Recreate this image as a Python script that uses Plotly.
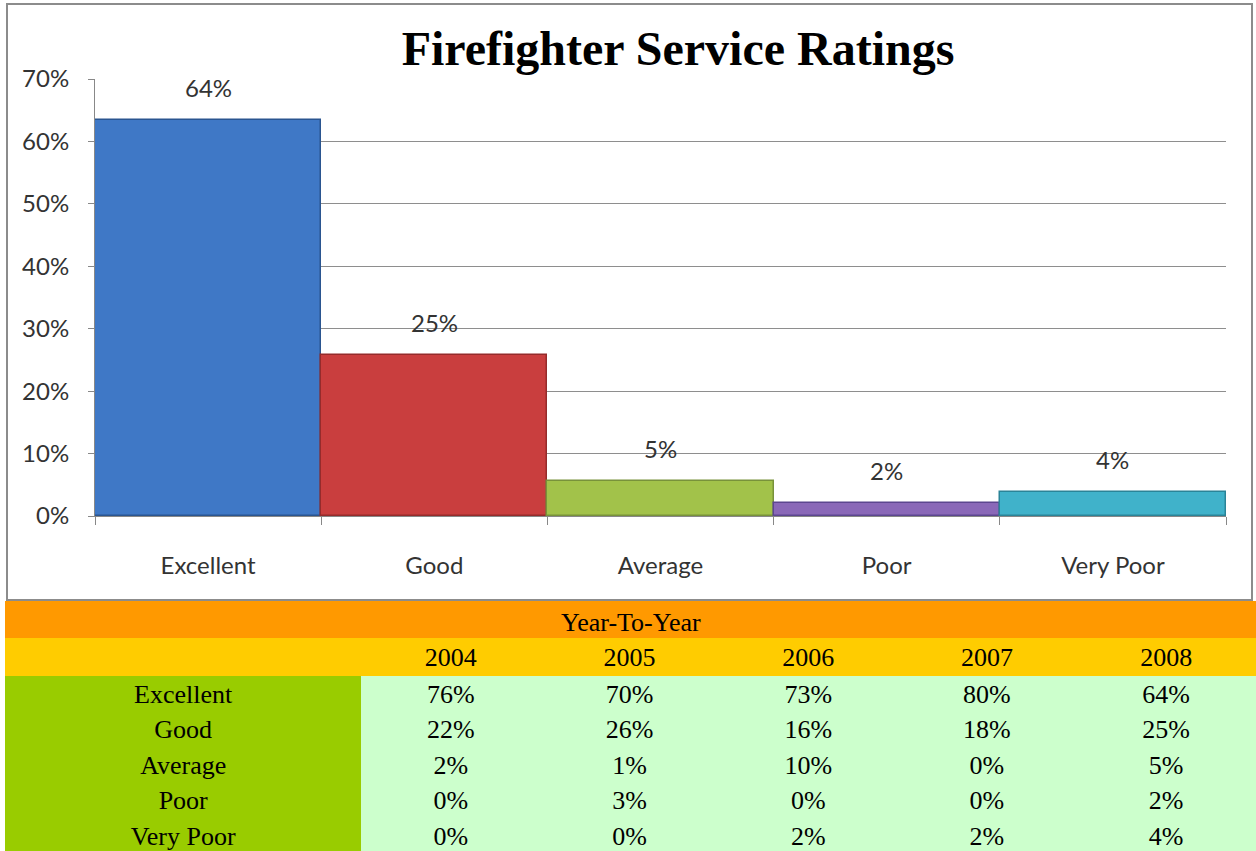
import plotly.graph_objects as go

# ---------------- data ----------------
categories = ["Excellent", "Good", "Average", "Poor", "Very Poor"]
values_2008 = [0.635, 0.258, 0.056, 0.021, 0.038]
bar_labels = ["64%", "25%", "5%", "2%", "4%"]
bar_colors = ["#3f78c6", "#c93e3e", "#a2c24a", "#8a68b8", "#40b2ca"]
bar_edges = ["#2a5590", "#952b2b", "#78923a", "#5c4690", "#2a8498"]

y_tick_vals = [0, 0.1, 0.2, 0.3, 0.4, 0.5, 0.6, 0.7]
y_tick_text = ["0%", "10%", "20%", "30%", "40%", "50%", "60%", "70%"]

table_title = "Year-To-Year"
years = ["2004", "2005", "2006", "2007", "2008"]
row_labels = ["Excellent", "Good", "Average", "Poor", "Very Poor"]
excellent_row = ["76%", "70%", "73%", "80%", "64%"]
good_row = ["22%", "26%", "16%", "18%", "25%"]
average_row = ["2%", "1%", "10%", "0%", "5%"]
poor_row = ["0%", "3%", "0%", "0%", "2%"]
very_poor_row = ["0%", "0%", "2%", "2%", "4%"]

# ---------------- layout helpers ----------------
W, H = 1256, 851
def px(x):
    return x / W
def py(y):
    return 1 - y / H

rows = [excellent_row, good_row, average_row, poor_row, very_poor_row]
year_cols = [[r[i] for r in rows] for i in range(len(years))]

label_font = dict(family="Lato, Carlito, sans-serif", size=24, color="#333333")
table_font = dict(family="Liberation Serif, Times New Roman, serif", size=26, color="#000000")

fig = go.Figure()

fig.add_trace(go.Bar(
    x=categories,
    y=values_2008,
    marker=dict(color=bar_colors, line=dict(color=bar_edges, width=1.5)),
    hoverinfo="skip",
    showlegend=False,
))

annotations = []
for c, v, t in zip(categories, values_2008, bar_labels):
    annotations.append(dict(
        x=c, y=v, xref="x", yref="y", text=t, showarrow=False,
        yanchor="bottom", yshift=16, font=label_font,
    ))

annotations.append(dict(
    x=(px(5) + 1) / 2, y=py(622), xref="paper", yref="paper",
    text=table_title, showarrow=False, xanchor="center", yanchor="middle",
    font=table_font,
))

fig.add_trace(go.Table(
    domain=dict(x=[px(5), 1], y=[0, py(601)]),
    columnwidth=[357, 179, 179, 179, 179, 180],
    header=dict(
        values=[["", ""]] + [["", y] for y in years],
        fill=dict(color=[["#FF9900", "#FFCC00"]]),
        line=dict(color=[["#FF9900", "#FFCC00"]], width=1),
        height=37,
        align="center",
        font=table_font,
    ),
    cells=dict(
        values=[row_labels] + year_cols,
        fill=dict(color=["#99CC00", "#CCFFCC"]),
        line=dict(color=["#99CC00", "#CCFFCC"], width=1),
        height=35.6,
        align="center",
        font=table_font,
    ),
))

fig.update_layout(
    width=W, height=H,
    margin=dict(l=0, r=0, t=0, b=0, pad=0, autoexpand=False),
    paper_bgcolor="white",
    plot_bgcolor="white",
    bargap=0,
    title=dict(
        text="<b>Firefighter Service Ratings</b>",
        x=px(678), y=py(48), xanchor="center", yanchor="middle",
        font=dict(family="Liberation Serif, Times New Roman, serif", size=48, color="#000000"),
    ),
    xaxis=dict(
        domain=[px(95), px(1226)],
        automargin=False,
        showline=True, linecolor="#888888", linewidth=1,
        ticks="outside", tickson="boundaries", ticklen=8, tickcolor="#888888",
        tickfont=label_font, ticklabelstandoff=28,
        showgrid=False, fixedrange=True,
    ),
    yaxis=dict(
        domain=[py(516), py(79)],
        automargin=False,
        range=[0, 0.7],
        tickvals=y_tick_vals, ticktext=y_tick_text,
        showline=True, linecolor="#888888", linewidth=1,
        ticks="outside", ticklen=6, tickcolor="#888888",
        tickfont=label_font, ticklabelstandoff=14,
        showgrid=True, gridcolor="#8e8e8e", gridwidth=1,
        zeroline=False, fixedrange=True,
    ),
    annotations=annotations,
    shapes=[dict(
        type="rect", xref="paper", yref="paper",
        x0=px(7), x1=px(1252), y0=py(600), y1=py(4),
        line=dict(color="#8c8c8c", width=2), fillcolor="rgba(0,0,0,0)",
        layer="above",
    )],
)

fig.write_html(
    "out.html",
    config=dict(displayModeBar=False),
    post_script="document.body.style.margin='0';document.body.style.overflow='hidden';",
)
